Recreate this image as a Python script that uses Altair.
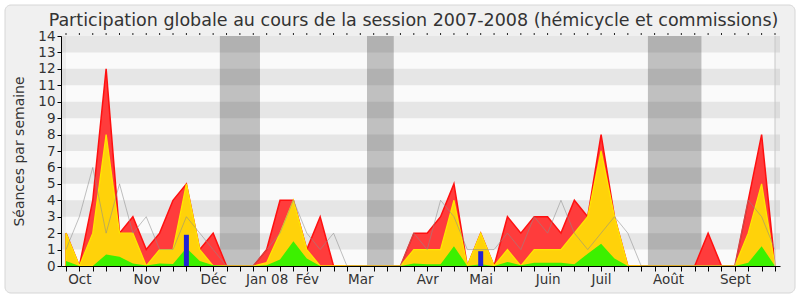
import json
import altair as alt
import pandas as pd

# ---- data (weekly values, session 2007-2008) ----
weeks = list(range(54))
presence = [2, 0, 4, 12, 2, 3, 1, 2, 4, 5, 1, 2, 0, 0, 0, 1, 4, 4, 1, 3,
            0, 0, 0, 0, 0, 0, 2, 2, 3, 5, 0, 2, 0, 3, 2, 3, 3, 2, 4, 3,
            8, 3, 0, 0, 0, 0, 0, 0, 2, 0, 0, 4, 8, 0]
participation = [2, 0, 2, 8, 2, 2, 0, 1, 1, 5, 1, 0, 0, 0, 0, 0.2, 2, 4, 1, 0,
                 0, 0, 0, 0, 0, 0, 1, 1, 1, 4, 0, 2, 0, 1, 0, 1, 1, 1, 2, 3,
                 7, 3, 0, 0, 0, 0, 0, 0, 0, 0, 0, 2, 5, 0]
interventions = [0.3, 0, 0, 0.7, 0.57, 0.15, 0.03, 0.15, 0.12, 1.1, 0.3, 0.05, 0, 0, 0, 0.05, 0.4, 1.5, 0.45, 0,
                 0, 0, 0, 0, 0, 0, 0.15, 0.1, 0.1, 1.2, 0, 0.1, 0, 0.25, 0.05, 0.2, 0.2, 0.2, 0.1, 0.75,
                 1.35, 0.45, 0, 0, 0, 0, 0, 0, 0, 0, 0, 0.2, 1.2, 0]
mediane = [1, 3, 6, 2, 5, 2, 3, 1, 1, 3, 2, 1, 0, 0, 0, 1, 2, 4, 2, 1,
           2, 0, 0, 0, 0, 0, 2, 1, 4, 3, 1, 1, 1, 2, 1, 3, 2, 4, 2, 1,
           2, 3, 2, 0, 0, 0, 0, 0, 0, 0, 0, 4, 3, 1]
questions_weeks = [9, 31]
questions_values = [1.9, 0.9]

vacances_debut = [11.5, 22.5, 43.5]
vacances_fin = [14.5, 24.5, 47.5]

mois_semaines = [1, 6, 11, 15, 18, 22, 27, 31, 36, 40, 45, 50]
mois_labels = ["Oct", "Nov", "Déc", "Jan 08", "Fév", "Mar", "Avr", "Mai", "Juin", "Juil", "Août", "Sept"]

stripe_lo = [1, 3, 5, 7, 9, 11, 13]
stripe_hi = [2, 4, 6, 8, 10, 12, 14]

TITLE = "Participation globale au cours de la session 2007-2008 (hémicycle et commissions)"
FONT = "DejaVu Sans"

# ---- tables ----
df = pd.DataFrame({"w": weeks, "presence": presence, "participation": participation,
                   "interventions": interventions, "mediane": mediane})
df_q = pd.DataFrame({"w": questions_weeks, "v": questions_values})
df_vac = pd.DataFrame({"a": vacances_debut, "b": vacances_fin})
df_str = pd.DataFrame({"lo": stripe_lo, "hi": stripe_hi})
df_bg = pd.DataFrame({"x0": [weeks[0]], "x1": [weeks[-1]], "y0": [0], "y1": [14]})

labels = [""] * len(weeks)
for s, l in zip(mois_semaines, mois_labels):
    labels[s] = l
label_expr = json.dumps(labels, ensure_ascii=False) + "[round(datum.value)]"

xscale = alt.Scale(domain=[weeks[0], weeks[-1]], nice=False, zero=False)
yscale = alt.Scale(domain=[0, 14], nice=False, zero=True)

xaxis = alt.Axis(values=weeks, labelExpr=label_expr, labelOverlap=False, labelFlush=False,
                 tickSize=5, tickColor="#000", domainColor="#000", grid=False,
                 labelFont=FONT, labelFontSize=13.5, labelColor="#333", labelPadding=1,
                 title=None, zindex=1)
yaxis = alt.Axis(values=list(range(15)), tickSize=4, tickColor="#000", domainColor="#000",
                 grid=False, labelFont=FONT, labelFontSize=13.5, labelColor="#333", labelPadding=2,
                 title="Séances par semaine", titleFont=FONT, titleFontSize=14,
                 titleFontWeight="normal", titleColor="#333", titleX=-38, titleY=115,
                 titleAlign="center", titleBaseline="alphabetic", titleAngle=-90, zindex=1)

X = lambda f: alt.X(f, scale=xscale, axis=xaxis)
Y = lambda f: alt.Y(f, scale=yscale, axis=yaxis)

frame = alt.Chart(df_bg).mark_rect(fill="#F0F0F0", stroke="#D6D6D6", strokeWidth=1,
                                   cornerRadius=6).encode(
    x=alt.value(-56), x2=alt.value(734), y=alt.value(-31), y2=alt.value(257))

bg = alt.Chart(df_bg).mark_rect(fill="#FAFAFA").encode(
    x=X("x0:Q"), x2="x1:Q", y=Y("y0:Q"), y2="y1:Q")

vac = alt.Chart(df_vac).mark_rect(fill="#C0C0C0").encode(
    x=X("a:Q"), x2="b:Q", y=alt.value(0), y2=alt.value(230))

stripes = alt.Chart(df_str).mark_rect(fill="#000000", opacity=0.08).encode(
    x=alt.value(0), x2=alt.value(719), y=Y("lo:Q"), y2="hi:Q")

def area(field, fill, stroke, sw):
    kw = dict(fill=fill, interpolate="linear")
    if stroke:
        kw.update(stroke=stroke, strokeWidth=sw)
    return alt.Chart(df).mark_area(**kw).encode(x=X("w:Q"), y=Y(f"{field}:Q"))

red = area("presence", "#FF3C3C", "#FF1010", 1.5)
yellow = area("participation", "#FFD20A", "#FFE600", 1.3)
green = area("interventions", "#3CF000", None, 0)

med = alt.Chart(df).mark_line(color="#8C8C8C", strokeWidth=1, opacity=0.55).encode(
    x=X("w:Q"), y=Y("mediane:Q"))

bars = alt.Chart(df_q).mark_bar(color="#2222D4", width=5).encode(
    x=X("w:Q"), y=Y("v:Q"))

right_border = alt.Chart(df_bg).mark_rule(color="#C8C8C8").encode(
    x=X("x1:Q"), y=alt.value(0), y2=alt.value(230))

top_dots = alt.Chart(df).mark_rule(color="#222", strokeWidth=1).encode(
    x=X("w:Q"), y=alt.value(-3), y2=alt.value(-1))

chart = alt.layer(frame, bg, vac, stripes, red, yellow, green, med, bars,
                  right_border, top_dots).properties(
    width=719, height=230, autosize="none",
    padding={"left": 61, "top": 36, "right": 20, "bottom": 34},
    background="#FFFFFF",
    title=alt.TitleParams(TITLE, font=FONT, fontSize=17.5, fontWeight="normal",
                          color="#333", anchor="middle", frame="group", dx=-7, dy=45,
                          baseline="alphabetic", offset=6, zindex=1),
).configure_view(stroke=None)

chart.save("out.html", embed_options={"renderer": "svg", "actions": False})
